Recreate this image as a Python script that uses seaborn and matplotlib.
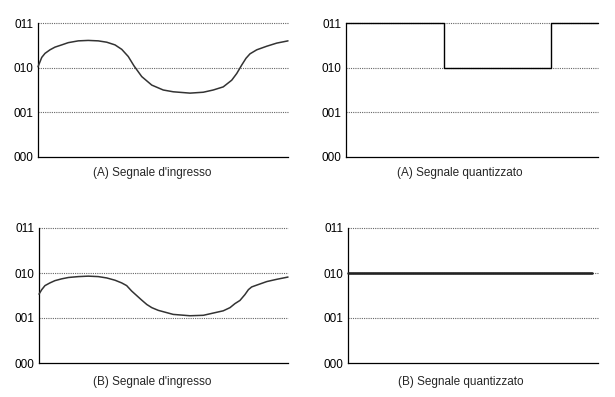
import numpy as np
import matplotlib
matplotlib.use("Agg")
import matplotlib.pyplot as plt
import seaborn as sns

# livelli di quantizzazione (codici a 3 bit)
levels = [0, 1, 2, 3]
level_labels = ["000", "001", "010", "011"]

# (A) segnale d'ingresso
in_a_x = [0.0, 0.15, 0.28, 0.48, 0.68, 0.95, 1.21, 1.61, 2.01, 2.41, 2.75, 3.08,
          3.35, 3.61, 3.84, 4.15, 4.55, 5.01, 5.41, 6.08, 6.61, 7.01, 7.41, 7.75,
          7.95, 8.15, 8.32, 8.48, 8.75, 9.15, 9.55, 10.0]
in_a_y = [2.02, 2.23, 2.32, 2.40, 2.46, 2.51, 2.56, 2.60, 2.61, 2.60, 2.57, 2.51,
          2.41, 2.25, 2.04, 1.80, 1.61, 1.50, 1.46, 1.43, 1.45, 1.50, 1.57, 1.72,
          1.87, 2.06, 2.21, 2.31, 2.40, 2.48, 2.55, 2.60]

# (A) segnale quantizzato
q_a_x = [0.0, 3.9, 8.15, 10.0]
q_a_y = [3, 2, 3, 3]

# (B) segnale d'ingresso
in_b_x = [0.0, 0.11, 0.24, 0.44, 0.64, 0.91, 1.18, 1.58, 1.98, 2.38, 2.72, 3.05,
          3.32, 3.52, 3.72, 3.92, 4.12, 4.33, 4.53, 4.79, 4.99, 5.39, 6.06, 6.60,
          7.0, 7.40, 7.67, 7.87, 8.07, 8.27, 8.41, 8.54, 8.74, 9.15, 9.55, 10.0]
in_b_y = [1.53, 1.63, 1.72, 1.78, 1.83, 1.87, 1.90, 1.92, 1.93, 1.92, 1.89, 1.84,
          1.78, 1.72, 1.60, 1.50, 1.40, 1.30, 1.23, 1.17, 1.14, 1.08, 1.05, 1.06,
          1.11, 1.16, 1.23, 1.32, 1.39, 1.52, 1.63, 1.69, 1.73, 1.81, 1.86, 1.91]

# (B) segnale quantizzato
q_b_x = [0.0, 9.75]
q_b_y = [2, 2]

titles = ["(A) Segnale d'ingresso", "(A) Segnale quantizzato",
          "(B) Segnale d'ingresso", "(B) Segnale quantizzato"]

sns.set_style("white")
plt.rcParams['font.family'] = ['Liberation Sans', 'DejaVu Sans']

W, H = 615, 397
fig = plt.figure(figsize=(W / 100, H / 100), dpi=100)


def make_ax(left, right, top, bottom):
    return fig.add_axes([left / W, (H - bottom) / H, (right - left) / W, (bottom - top) / H])


axes = [make_ax(38, 288, 23, 157), make_ax(346, 598, 23, 157),
        make_ax(39, 288, 228, 363), make_ax(348, 598, 228, 363)]
title_pos = [(152, 173), (460, 173), (152, 382), (461, 382)]

for ax in axes:
    ax.set_xlim(0, 10)
    ax.set_ylim(0, 3)
    for lv in levels[1:]:
        ax.axhline(lv, color="#666666", linewidth=0.8, linestyle=(0, (1, 1)),
                   clip_on=False, zorder=1)
    ax.set_yticks(levels)
    ax.set_yticklabels(level_labels)
    ax.set_xticks([])
    ax.tick_params(axis="y", length=0, pad=3.5, labelsize=8.5, colors="black")
    sns.despine(ax=ax)
    for s in ["left", "bottom"]:
        ax.spines[s].set_color("black")
        ax.spines[s].set_linewidth(0.9)

sns.lineplot(x=in_a_x, y=in_a_y, ax=axes[0], color="#333333", linewidth=1.1,
             sort=False, estimator=None, clip_on=False, zorder=3)
sns.lineplot(x=q_a_x, y=q_a_y, ax=axes[1], color="black", linewidth=1.0,
             drawstyle="steps-post", sort=False, estimator=None, clip_on=False, zorder=3)
sns.lineplot(x=in_b_x, y=in_b_y, ax=axes[2], color="#333333", linewidth=1.1,
             sort=False, estimator=None, clip_on=False, zorder=3)
sns.lineplot(x=q_b_x, y=q_b_y, ax=axes[3], color="#222222", linewidth=1.9,
             sort=False, estimator=None, clip_on=False, zorder=3)

for t, (px, py) in zip(titles, title_pos):
    fig.text(px / W, 1 - py / H, t, ha="center", va="center", fontsize=8.5)

fig.savefig("out.png", dpi=100)
